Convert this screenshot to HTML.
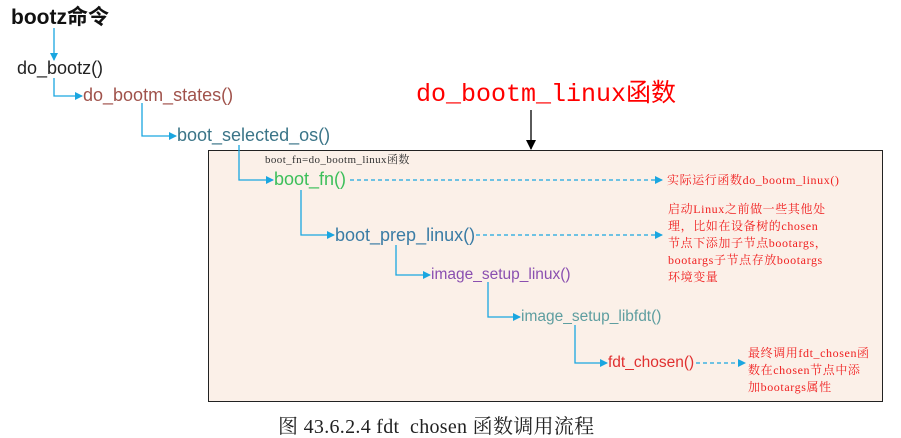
<!DOCTYPE html>
<html><head><meta charset="utf-8"><style>
body{margin:0;width:901px;height:438px;background:#fff;position:relative;overflow:hidden;font-family:"Liberation Sans","Noto Sans CJK SC",sans-serif}
.t{position:absolute;white-space:nowrap;line-height:1}
.s{font-family:"Liberation Serif","Noto Serif CJK SC",serif}
.r{color:#f02020;font-size:12px;line-height:17px;letter-spacing:0.6px}
</style></head><body>
<div style="position:absolute;left:208px;top:150px;width:673px;height:250px;background:#fbf0e8;border:1px solid #222"></div>
<svg width="901" height="438" style="position:absolute;left:0;top:0">
<defs><marker id="a" markerWidth="8" markerHeight="8" refX="7" refY="4" orient="auto" markerUnits="userSpaceOnUse"><path d="M0,0L8,4L0,8z" fill="#1aa6e0"/></marker>
<marker id="b" markerWidth="10" markerHeight="10" refX="9" refY="5" orient="auto" markerUnits="userSpaceOnUse"><path d="M0,0L10,5L0,10z" fill="#000"/></marker></defs>
<g stroke="#1aa6e0" stroke-width="1.3" fill="none" marker-end="url(#a)">
<path d="M54,28V60"/>
<path d="M54,78V96H82"/>
<path d="M142,103V136H176"/>
<path d="M239,145V180H273"/>
<path d="M301,190V235H334"/>
<path d="M396,245V275H430"/>
<path d="M488,282V317H520"/>
<path d="M575,325V363H607"/>
<path d="M350,180H662" stroke-dasharray="4,3"/>
<path d="M476,235H662" stroke-dasharray="4,3"/>
<path d="M696,363H745" stroke-dasharray="4,3"/>
</g>
<path d="M531,110V149" stroke="#000" stroke-width="1.3" marker-end="url(#b)"/>
</svg>
<div class="t" style="left:11px;top:7px;font-size:21px;font-weight:bold;color:#111">bootz命令</div>
<div class="t" style="left:17px;top:59px;font-size:18px;color:#222">do_bootz()</div>
<div class="t" style="left:83px;top:86px;font-size:18px;color:#a0524b">do_bootm_states()</div>
<div class="t" style="left:177px;top:126px;font-size:18px;color:#3b7588">boot_selected_os()</div>
<div class="t" style="left:416px;top:82px;font-size:25px;color:#f00;font-family:'Liberation Mono','Noto Sans CJK SC',monospace">do_bootm_linux函数</div>
<div class="t s" style="left:265px;top:155px;font-size:11px;color:#333;letter-spacing:0.4px">boot_fn=do_bootm_linux函数</div>
<div class="t" style="left:274px;top:170px;font-size:18px;color:#3cbf5a">boot_fn()</div>
<div class="t" style="left:335px;top:226px;font-size:18px;color:#3a7ca5">boot_prep_linux()</div>
<div class="t" style="left:431px;top:267px;font-size:15.5px;color:#8a4fb0">image_setup_linux()</div>
<div class="t" style="left:521px;top:309px;font-size:15.5px;color:#5e9ea0">image_setup_libfdt()</div>
<div class="t" style="left:608px;top:355px;font-size:15.5px;color:#e03030">fdt_chosen()</div>
<div class="t s r" style="left:667px;top:172px">实际运行函数do_bootm_linux()</div>
<div class="t s r" style="left:668px;top:201px">启动Linux之前做一些其他处<br>理，比如在设备树的chosen<br>节点下添加子节点bootargs，<br>bootargs子节点存放bootargs<br>环境变量</div>
<div class="t s r" style="left:748px;top:345px">最终调用fdt_chosen函<br>数在chosen节点中添<br>加bootargs属性</div>
<div class="t s" style="left:278px;top:417px;font-size:20px;color:#222;letter-spacing:0.3px">图 43.6.2.4 fdt&nbsp; chosen 函数调用流程</div>
</body></html>
